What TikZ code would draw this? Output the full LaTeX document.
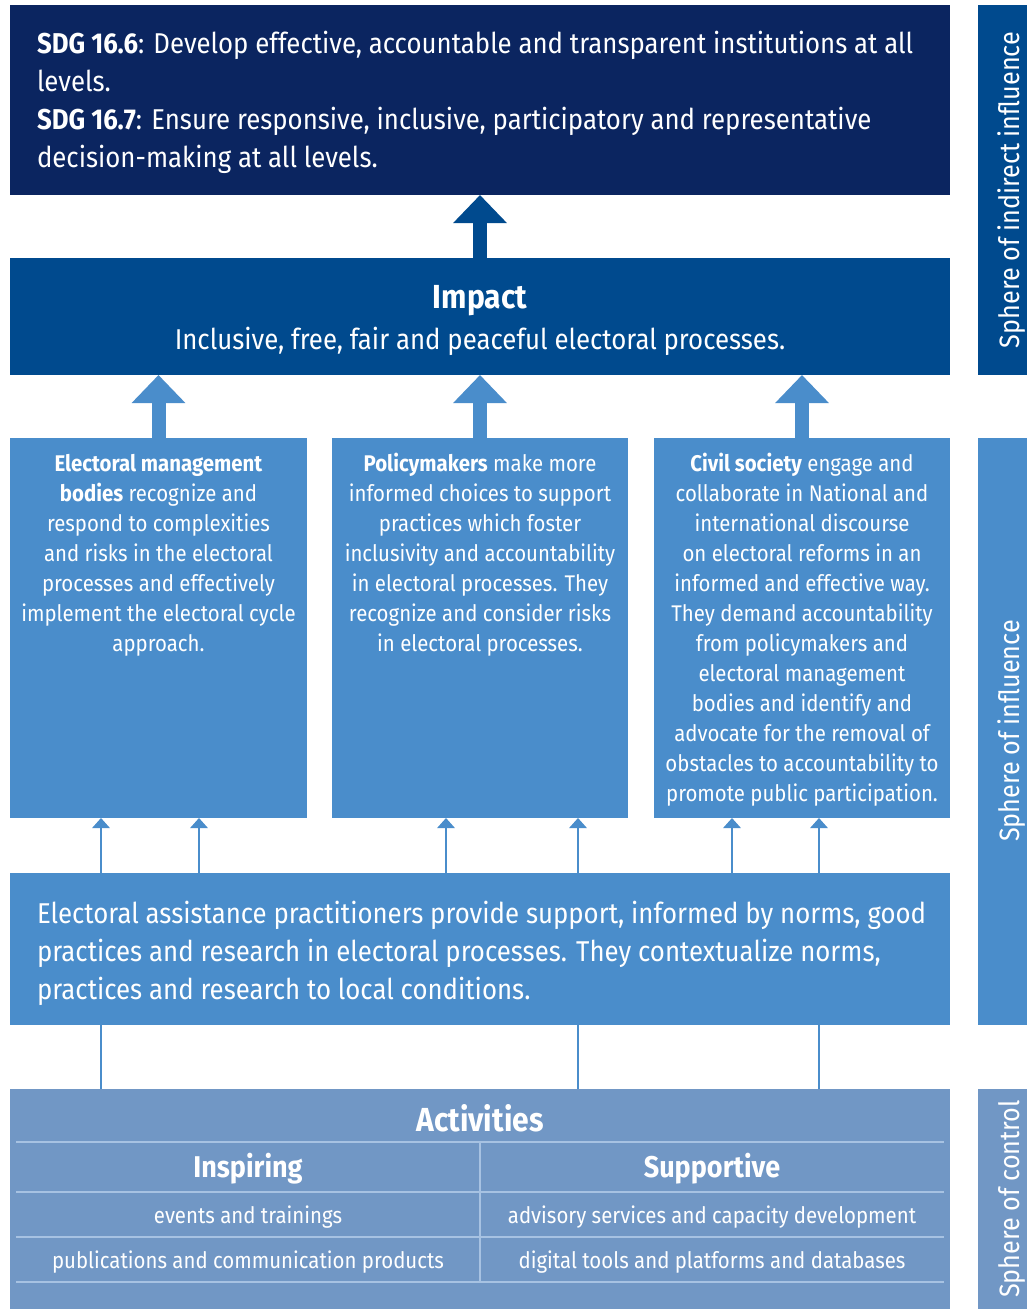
\documentclass[tikz,border=0pt]{standalone}
\usepackage{fontspec}
\setmainfont{Fira Sans}[FakeStretch=0.9]
\usetikzlibrary{arrows.meta,fit,calc}
\definecolor{sdgc}{HTML}{0B2560}
\definecolor{impactc}{HTML}{004A8E}
\definecolor{lightc}{HTML}{4A8DCB}
\definecolor{actc}{HTML}{7197C5}
\definecolor{tlinec}{HTML}{A7C2E2}
\begin{document}
\begin{tikzpicture}[x=0.75pt,y=-0.75pt,
  blk/.style={inner sep=0pt,outer sep=0pt,draw=none},
  txt/.style={text=white,inner sep=0pt,outer sep=0pt},
  big/.style={font=\fontsize{21.5}{28.5}\selectfont},
  small/.style={font=\fontsize{17}{22.5}\selectfont},
  fatarrow/.style={line width=10.5pt,-{Triangle[width=39pt,length=21pt]}},
  thinarrow/.style={lightc,line width=1.5pt,-{Triangle[width=13pt,length=7.5pt]}},
  plainline/.style={lightc,line width=1.5pt},
  tline/.style={tlinec,line width=1.2pt},
  side/.style={txt,rotate=90,font=\fontsize{21}{24}\selectfont}]
\fill[white] (0,0) rectangle (1027,1309);
\useasboundingbox (0,0) rectangle (1027,1309);
% blocks
\node[blk,fill=sdgc,fit={(10,5) (950,195)}] (sdg) {};
\node[blk,fill=impactc,fit={(10,258) (950,375)}] (impact) {};
\node[blk,fill=lightc,fit={(10,438) (307,818)}] (b1) {};
\node[blk,fill=lightc,fit={(332,438) (628,818)}] (b2) {};
\node[blk,fill=lightc,fit={(654,438) (950,818)}] (b3) {};
\node[blk,fill=lightc,fit={(10,873) (950,1025)}] (prac) {};
\node[blk,fill=actc,fit={(10,1089) (950,1309)}] (act) {};
\node[blk,fill=impactc,fit={(978,5) (1027,375)}] (bar1) {};
\node[blk,fill=lightc,fit={(978,438) (1027,1025)}] (bar2) {};
\node[blk,fill=actc,fit={(978,1089) (1027,1309)}] (bar3) {};
% texts
\node[txt,big,anchor=west,align=left] (sdgt) at (37,102.5)
 {\textbf{SDG 16.6}: Develop effective, accountable and transparent institutions at all\\
  levels.\\
  \textbf{SDG 16.7}: Ensure responsive, inclusive, participatory and representative\\
  decision-making at all levels.};
\node[txt,font=\fontsize{25}{28}\selectfont\bfseries] (impt) at (480,301) {Impact};
\node[txt,big] (imps) at (480,341) {Inclusive, free, fair and peaceful electoral processes.};
\node[txt,small,align=center] (b1t) at (158.5,555)
 {\textbf{Electoral management}\\
  \textbf{bodies} recognize and\\
  respond to complexities\\
  and risks in the electoral\\
  processes and effectively\\
  implement the electoral cycle\\
  approach.};
\node[txt,small,align=center] (b2t) at (480,555)
 {\textbf{Policymakers} make more\\
  informed choices to support\\
  practices which foster\\
  inclusivity and accountability\\
  in electoral processes. They\\
  recognize and consider risks\\
  in electoral processes.};
\node[txt,small,align=center] (b3t) at (802,630)
 {\textbf{Civil society} engage and\\
  collaborate in National and\\
  international discourse\\
  on electoral reforms in an\\
  informed and effective way.\\
  They demand accountability\\
  from policymakers and\\
  electoral management\\
  bodies and identify and\\
  advocate for the removal of\\
  obstacles to accountability to\\
  promote public participation.};
\node[txt,big,anchor=west,align=left] (pract) at (37,953)
 {Electoral assistance practitioners provide support, informed by norms, good\\
  practices and research in electoral processes. They contextualize norms,\\
  practices and research to local conditions.};
% activities table
\node[txt,font=\fontsize{25}{28}\selectfont\bfseries] (actt) at (480,1118) {Activities};
\draw[tline] (16,1142) -- (944,1142);
\draw[tline] (16,1192) -- (944,1192);
\draw[tline] (16,1237) -- (944,1237);
\draw[tline] (16,1282) -- (944,1282);
\draw[tline] (480,1142) -- (480,1282);
\node[txt,font=\fontsize{22.5}{25}\selectfont\bfseries] (insp) at (248,1169) {Inspiring};
\node[txt,font=\fontsize{22.5}{25}\selectfont\bfseries] (supp) at (712,1169) {Supportive};
\node[txt,font=\fontsize{17}{20}\selectfont] (r1a) at (248,1217) {events and trainings};
\node[txt,font=\fontsize{17}{20}\selectfont] (r2a) at (248,1262) {publications and communication products};
\node[txt,font=\fontsize{17}{20}\selectfont] (r1b) at (712,1217) {advisory services and capacity development};
\node[txt,font=\fontsize{17}{20}\selectfont] (r2b) at (712,1262) {digital tools and platforms and databases};
% side labels
\node[side] (s1) at (1012,190) {Sphere of indirect influence};
\node[side] (s2) at (1012,731) {Sphere of influence};
\node[side] (s3) at (1012,1199) {Sphere of control};
% fat arrows
\draw[fatarrow,impactc] (impact.north) -- (sdg.south);
\draw[fatarrow,lightc] (b1.north) -- (b1.north |- impact.south);
\draw[fatarrow,lightc] (b2.north) -- (b2.north |- impact.south);
\draw[fatarrow,lightc] (b3.north) -- (b3.north |- impact.south);
% thin arrows
\coordinate (a1) at (101,0);
\coordinate (a2) at (199,0);
\coordinate (a3) at (446,0);
\coordinate (a4) at (578,0);
\coordinate (a5) at (732,0);
\coordinate (a6) at (819,0);
\draw[thinarrow] (prac.north -| a1) -- (b1.south -| a1);
\draw[thinarrow] (prac.north -| a2) -- (b1.south -| a2);
\draw[thinarrow] (prac.north -| a3) -- (b2.south -| a3);
\draw[thinarrow] (prac.north -| a4) -- (b2.south -| a4);
\draw[thinarrow] (prac.north -| a5) -- (b3.south -| a5);
\draw[thinarrow] (prac.north -| a6) -- (b3.south -| a6);
\draw[plainline] (act.north -| a1) -- (prac.south -| a1);
\draw[plainline] (act.north -| a4) -- (prac.south -| a4);
\draw[plainline] (act.north -| a6) -- (prac.south -| a6);
\end{tikzpicture}
\end{document}
